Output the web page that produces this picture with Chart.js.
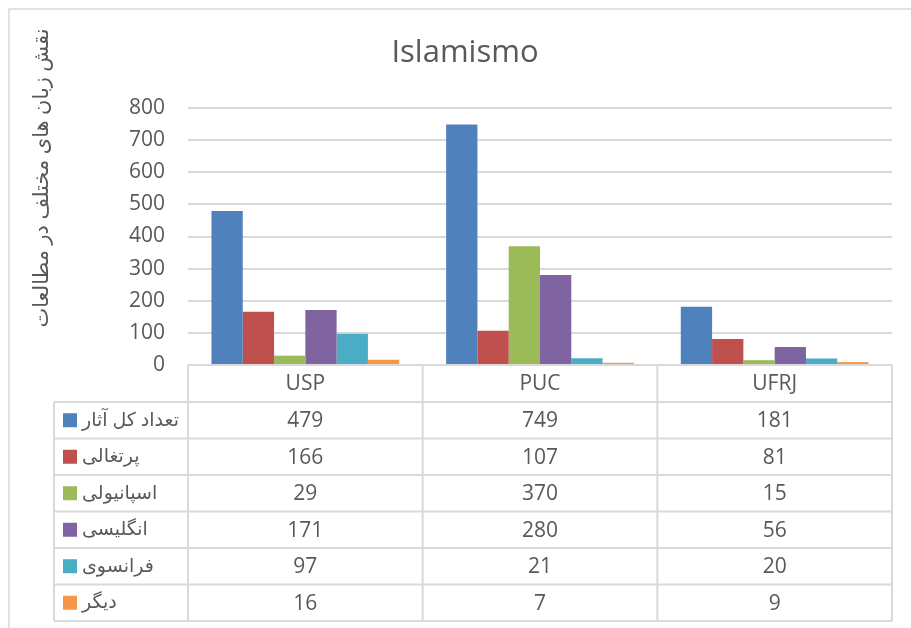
<!DOCTYPE html>
<html>
<head>
<meta charset="utf-8">
<script src="https://cdn.jsdelivr.net/npm/chart.js@4.4.0/dist/chart.umd.min.js"></script>
<style>
  html, body { margin: 0; padding: 0; background: #fff; }
  #wrap { width: 911px; height: 628px; }
</style>
</head>
<body>
<div id="wrap"><canvas id="chart" width="911" height="628"></canvas></div>
<script>
// Data
const universities = ['USP', 'PUC', 'UFRJ'];
const seriesNames = ['تعداد کل آثار', 'پرتغالی', 'اسپانیولی', 'انگلیسی', 'فرانسوی', 'دیگر'];
const totalWorks = [479, 749, 181];
const portuguese = [166, 107, 81];
const spanish = [29, 370, 15];
const english = [171, 280, 56];
const french = [97, 21, 20];
const other = [16, 7, 9];
const seriesValues = [totalWorks, portuguese, spanish, english, french, other];
const seriesColors = ['#4F81BD', '#C0504D', '#9BBB59', '#8064A2', '#4BACC6', '#F79646'];
const yMax = 800;
const yStep = 100;
const chartTitle = 'Islamismo';
const yTitle = 'نقش زبان های مختلف در مطالعات';

const FONT = "'Open Sans', 'DejaVu Sans', sans-serif";
const TEXT = '#595959';
const LINE = '#d9d9d9';

// background, frame, title, axis title and the data table under the plot
const tablePlugin = {
  id: 'dataTable',
  beforeDraw(chart) {
    const ctx = chart.ctx;
    ctx.save();
    ctx.fillStyle = '#fff';
    ctx.fillRect(0, 0, chart.width, chart.height);
    ctx.strokeStyle = LINE;
    ctx.lineWidth = 1.5;
    ctx.beginPath();
    ctx.moveTo(9, chart.height);
    ctx.lineTo(9, 9);
    ctx.lineTo(chart.width, 9);
    ctx.stroke();

    ctx.fillStyle = TEXT;
    ctx.font = '31px ' + FONT;
    ctx.textAlign = 'center';
    ctx.textBaseline = 'alphabetic';
    ctx.fillText(chartTitle, 465, 62);

    ctx.translate(42, 178);
    ctx.rotate(-Math.PI / 2);
    ctx.font = '21px ' + FONT;
    ctx.textBaseline = 'middle';
    ctx.fillText(yTitle, 0, 0);
    ctx.restore();
  },
  afterDraw(chart) {
    const ctx = chart.ctx;
    const area = chart.chartArea;
    const xScale = chart.scales.x;
    const colW = (area.right - area.left) / universities.length;
    const headerH = 37;
    const rowH = 36.5;
    const top = area.bottom;
    const bodyTop = top + headerH;
    const bottom = bodyTop + rowH * seriesNames.length;
    const legendLeft = 54;

    ctx.save();
    ctx.strokeStyle = LINE;
    ctx.lineWidth = 2;
    ctx.beginPath();
    ctx.moveTo(area.left, top);
    ctx.lineTo(area.right, top);
    for (let i = 0; i <= seriesNames.length; i++) {
      const y = bodyTop + rowH * i;
      ctx.moveTo(legendLeft, y);
      ctx.lineTo(area.right, y);
    }
    ctx.moveTo(legendLeft, bodyTop);
    ctx.lineTo(legendLeft, bottom);
    for (let j = 0; j <= universities.length; j++) {
      const x = area.left + colW * j;
      ctx.moveTo(x, top);
      ctx.lineTo(x, bottom);
    }
    ctx.stroke();

    ctx.fillStyle = TEXT;
    ctx.font = '21px ' + FONT;
    ctx.textAlign = 'center';
    ctx.textBaseline = 'middle';
    universities.forEach((u, j) => {
      ctx.fillText(u, xScale.getPixelForValue(j), top + headerH / 2 + 1);
    });

    seriesNames.forEach((name, i) => {
      const cy = bodyTop + rowH * (i + 0.5);
      ctx.fillStyle = seriesColors[i];
      ctx.fillRect(63, cy - 7, 14, 14);
      ctx.fillStyle = TEXT;
      ctx.textAlign = 'left';
      ctx.font = '19px ' + FONT;
      ctx.fillText(name, 82, cy);
      ctx.textAlign = 'center';
      ctx.font = '21px ' + FONT;
      seriesValues[i].forEach((v, j) => {
        ctx.fillText(String(v), xScale.getPixelForValue(j), cy + 1);
      });
    });
    ctx.restore();
  }
};

new Chart(document.getElementById('chart').getContext('2d'), {
  type: 'bar',
  data: {
    labels: universities,
    datasets: seriesNames.map((name, i) => ({
      label: name,
      data: seriesValues[i],
      backgroundColor: seriesColors[i],
      borderWidth: 0,
      categoryPercentage: 0.8,
      barPercentage: 1.0
    }))
  },
  options: {
    responsive: false,
    devicePixelRatio: 1,
    animation: false,
    layout: {
      padding: { top: 108, bottom: 263, left: 0, right: 19 }
    },
    plugins: {
      legend: { display: false },
      title: { display: false },
      tooltip: { enabled: false }
    },
    scales: {
      x: {
        display: false
      },
      y: {
        min: 0,
        max: yMax,
        border: { display: false },
        grid: { color: LINE, lineWidth: 2, drawTicks: false },
        ticks: {
          stepSize: yStep,
          color: TEXT,
          padding: 23,
          font: { family: FONT, size: 21 }
        },
        afterFit(scale) {
          scale.width = 188;
        }
      }
    }
  },
  plugins: [tablePlugin]
});
</script>
</body>
</html>
